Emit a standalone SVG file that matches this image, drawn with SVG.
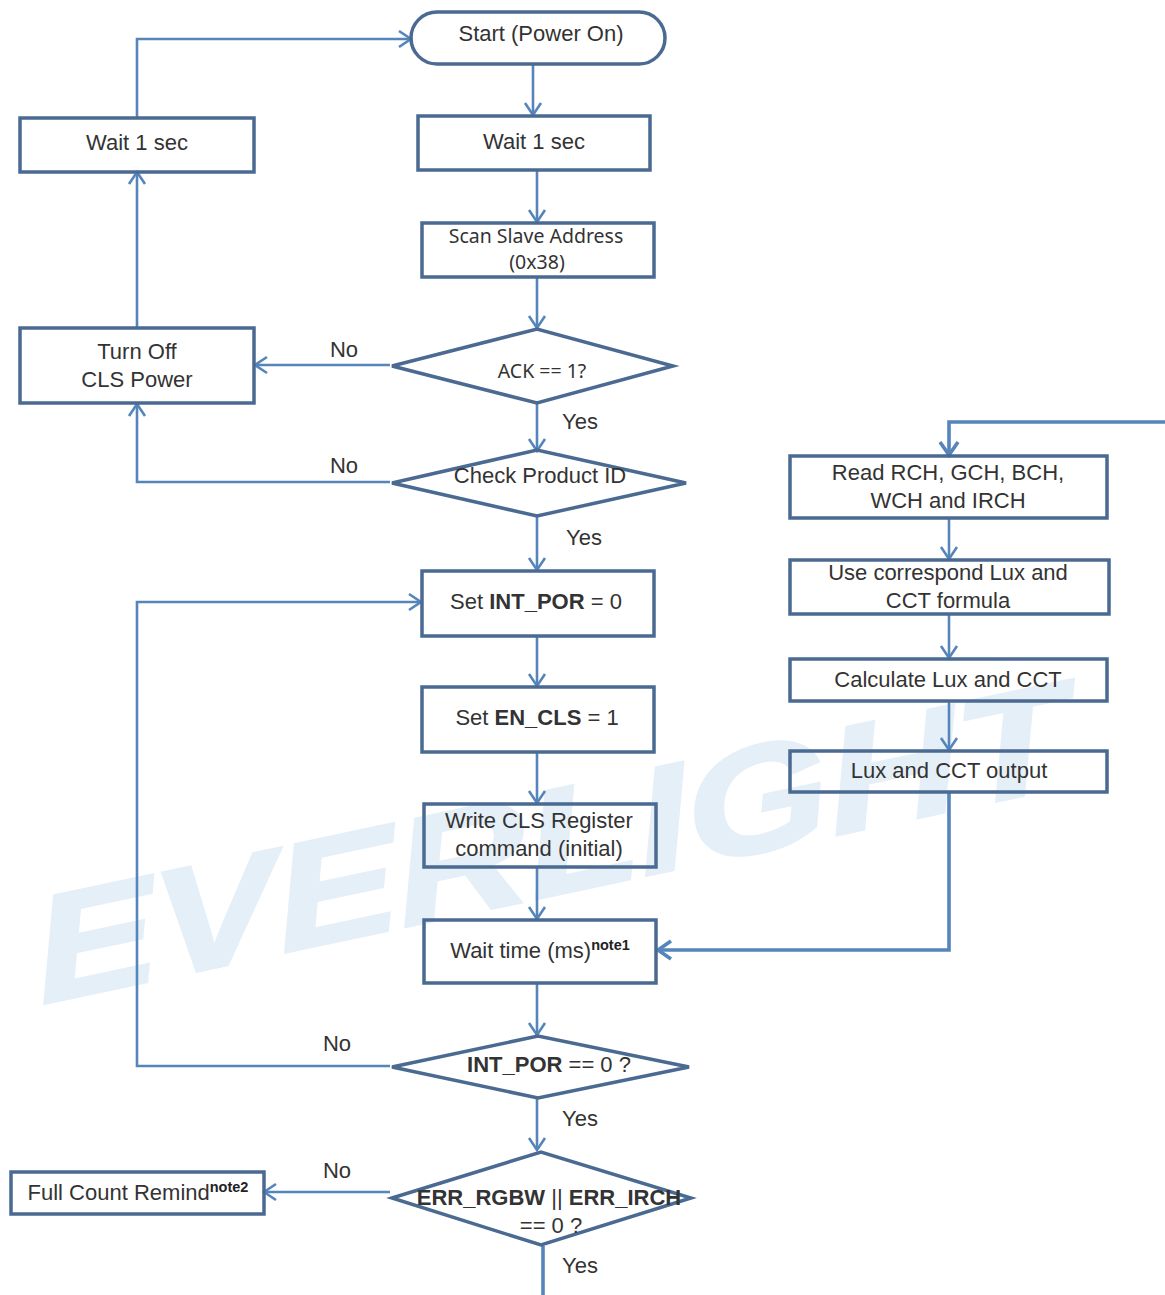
<svg xmlns="http://www.w3.org/2000/svg" width="1165" height="1295" viewBox="0 0 1165 1295">
<style>
text{font-family:"Liberation Sans",Arial,sans-serif;font-size:22px;fill:#333;text-anchor:middle}
.s{fill:none;stroke:#4a6a92;stroke-width:3.5}
.c{fill:none;stroke:#5585ba;stroke-width:2.600;marker-end:url(#a)}
.n{fill:none;stroke:#5585ba;stroke-width:3.600}
.t{fill:none;stroke:#5585ba;stroke-width:3.600;marker-end:url(#b)}
.b{font-weight:bold}
.u{font-weight:bold;font-size:14.500px;fill:#222}
.w{font-weight:bold;font-style:italic;font-size:150px;fill:#e5eff8;stroke:#e5eff8;stroke-width:3;text-anchor:start}
.d{font-family:"Noto Sans","DejaVu Sans",sans-serif;font-size:19.500px}
</style>
<defs>
<marker id="a" markerUnits="userSpaceOnUse" markerWidth="24" markerHeight="24" refX="20" refY="12" orient="auto"><path d="M8 4L20 12L8 20" fill="none" stroke="#5585ba" stroke-width="2.600"/></marker>
<marker id="b" markerUnits="userSpaceOnUse" markerWidth="26" markerHeight="26" refX="22" refY="13" orient="auto"><path d="M9 4L22 13L9 22" fill="none" stroke="#5585ba" stroke-width="3.600"/></marker>
</defs>
<rect width="1165" height="1295" fill="#fff"/>
<text class="w" transform="translate(42 1004) rotate(-12) skewX(-4) scale(1.23 1)">EVERLIGHT</text>
<g id="connectors">
<path class="c" d="M137 117V39H411"/>
<path class="c" d="M533 64V115"/>
<path class="c" d="M537 170V222"/>
<path class="c" d="M537 277V328"/>
<path class="c" d="M137 328V172"/>
<path class="c" d="M390 365H255"/>
<path class="c" d="M537 403V451"/>
<path class="c" d="M390 482H137V404"/>
<path class="c" d="M537 517V570"/>
<path class="c" d="M537 636V686"/>
<path class="c" d="M537 752V803"/>
<path class="c" d="M537 867V919"/>
<path class="c" d="M537 983V1035"/>
<path class="c" d="M390 1066H137V602H421"/>
<path class="c" d="M537 1098V1150"/>
<path class="c" d="M390 1192H264"/>
<path class="n" d="M543 1246V1295"/>
<path class="t" d="M1165 422H949V455"/>
<path class="c" d="M949 519V559"/>
<path class="c" d="M949 615V658"/>
<path class="c" d="M949 702V750"/>
<path class="t" d="M949 792V950H658"/>
</g>
<g id="start"><rect class="s" x="411" y="12" width="254" height="52" rx="26"/><text x="541" y="41">Start (Power On)</text></g>
<g id="wait1"><rect class="s" x="418" y="116" width="232" height="54"/><text x="534" y="149">Wait 1 sec</text></g>
<g id="wait2"><rect class="s" x="20" y="118" width="234" height="54"/><text x="137" y="150">Wait 1 sec</text></g>
<g id="scan"><rect class="s" x="422" y="223" width="232" height="54"/><text class="d" x="536" y="243">Scan Slave Address</text><text class="d" x="537" y="269">(0x38)</text></g>
<g id="off"><rect class="s" x="20" y="328" width="234" height="75"/><text x="137" y="359">Turn Off</text><text x="137" y="387">CLS Power</text></g>
<g id="ack"><path class="s" d="M392 366L537 329L673 366L537 403Z"/><text class="d" x="542" y="378">ACK == 1?</text></g>
<g id="pid"><path class="s" d="M392 483L537 450L686 483L537 516Z"/><text x="540" y="483">Check Product ID</text></g>
<g id="por"><rect class="s" x="422" y="571" width="232" height="65"/><text x="536" y="609">Set <tspan class="b">INT_POR</tspan> = 0</text></g>
<g id="en"><rect class="s" x="422" y="687" width="232" height="65"/><text x="537" y="725">Set <tspan class="b">EN_CLS</tspan> = 1</text></g>
<g id="write"><rect class="s" x="424" y="804" width="232" height="63"/><text x="539" y="828">Write CLS Register</text><text x="539" y="856">command (initial)</text></g>
<g id="waitms"><rect class="s" x="424" y="920" width="232" height="63"/><text x="540" y="958">Wait time (ms)<tspan class="u" dy="-8">note1</tspan></text></g>
<g id="q1"><path class="s" d="M392 1067L538 1036L689 1067L538 1098Z"/><text x="549" y="1072"><tspan class="b">INT_POR</tspan> == 0 ?</text></g>
<g id="q2"><path class="s" d="M392 1198L541 1152L691 1198L541 1245Z"/><text x="549" y="1205"><tspan class="b">ERR_RGBW</tspan> || <tspan class="b">ERR_IRCH</tspan></text><text x="551" y="1233">== 0 ?</text></g>
<g id="full"><rect class="s" x="11" y="1172" width="253" height="42"/><text x="138" y="1200">Full Count Remind<tspan class="u" dy="-8">note2</tspan></text></g>
<g id="read"><rect class="s" x="790" y="456" width="317" height="62"/><text x="948" y="480">Read RCH, GCH, BCH,</text><text x="948" y="508">WCH and IRCH</text></g>
<g id="use"><rect class="s" x="790" y="560" width="319" height="54"/><text x="948" y="580">Use correspond Lux and</text><text x="948" y="608">CCT formula</text></g>
<g id="calc"><rect class="s" x="790" y="659" width="317" height="42"/><text x="948" y="687">Calculate Lux and CCT</text></g>
<g id="out"><rect class="s" x="790" y="751" width="317" height="41"/><text x="949" y="778">Lux and CCT output</text></g>
<g id="labels">
<text x="344" y="357">No</text><text x="580" y="429">Yes</text><text x="344" y="473">No</text><text x="584" y="545">Yes</text><text x="337" y="1051">No</text><text x="580" y="1126">Yes</text><text x="337" y="1178">No</text><text x="580" y="1273">Yes</text>
</g>
</svg>
